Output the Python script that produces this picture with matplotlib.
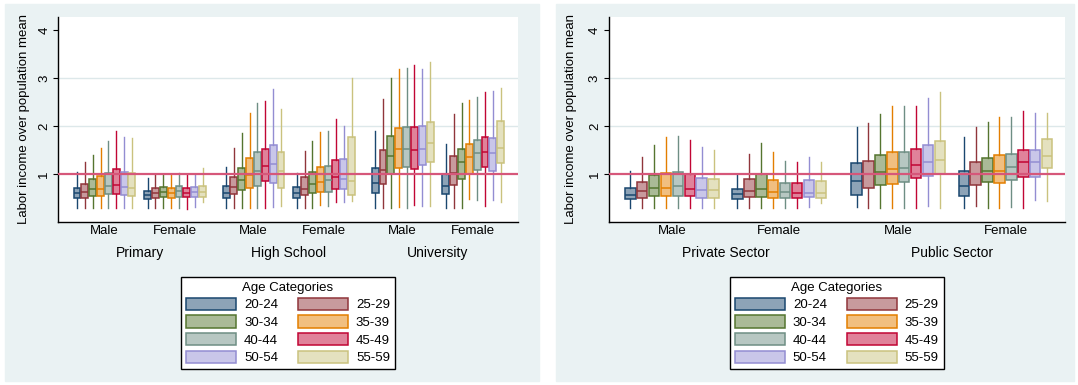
import numpy as np
import matplotlib
matplotlib.use('Agg')
import matplotlib.pyplot as plt
from matplotlib.colors import to_rgb
from matplotlib.patches import Patch, Rectangle

plt.rcParams['font.family'] = ['Liberation Sans', 'DejaVu Sans']

# Age categories and their colours
ages = ['20-24', '25-29', '30-34', '35-39', '40-44', '45-49', '50-54', '55-59']
age_colors = ['#1A476F', '#90353B', '#55752F', '#E37E00',
              '#6E8E84', '#C10534', '#938DD2', '#CAC27E']

genders = ['Male', 'Female']

# Education panel: clusters are Primary M/F, High School M/F, University M/F
edu_groups = ['Primary', 'High School', 'University']
edu_lo = [[.30, .30, .30, .30, .30, .30, .30, .30],
          [.30, .30, .30, .30, .30, .28, .32, .42],
          [.30, .30, .30, .30, .30, .30, .32, .33],
          [.30, .30, .30, .35, .33, .42, .42, .44],
          [.30, .30, .30, .32, .30, .36, .33, .34],
          [.30, .30, .30, .47, .46, .33, .46, .42]]
edu_q1 = [[.49, .50, .54, .55, .58, .58, .56, .54],
          [.48, .50, .52, .50, .53, .52, .53, .53],
          [.50, .58, .67, .70, .76, .86, .82, .70],
          [.49, .56, .60, .63, .63, .68, .68, .56],
          [.61, .79, 1.00, 1.12, 1.15, 1.11, 1.19, 1.24],
          [.58, .77, .90, 1.00, 1.08, 1.14, 1.07, 1.23]]
edu_med = [[.60, .63, .68, .69, .75, .77, .72, .70],
           [.56, .60, .62, .60, .64, .61, .62, .63],
           [.61, .72, .87, .98, 1.07, 1.17, 1.20, 1.07],
           [.61, .69, .79, .83, .87, .94, .89, .86],
           [.82, 1.08, 1.37, 1.52, 1.53, 1.49, 1.53, 1.65],
           [.74, 1.02, 1.24, 1.35, 1.43, 1.46, 1.43, 1.55]]
edu_q3 = [[.71, .80, .89, .95, 1.02, 1.10, 1.05, 1.02],
          [.65, .71, .72, .71, .74, .70, .72, .76],
          [.76, .94, 1.13, 1.33, 1.45, 1.53, 1.61, 1.45],
          [.72, .93, 1.04, 1.15, 1.17, 1.29, 1.32, 1.78],
          [1.13, 1.50, 1.80, 1.95, 1.98, 1.98, 1.99, 2.09],
          [1.01, 1.37, 1.53, 1.63, 1.70, 1.77, 1.75, 2.10]]
edu_hi = [[1.05, 1.24, 1.40, 1.55, 1.69, 1.90, 1.78, 1.74],
          [.92, 1.00, 1.01, 1.00, 1.03, .97, 1.00, 1.12],
          [1.14, 1.55, 1.85, 2.26, 2.47, 2.53, 2.78, 2.35],
          [1.03, 1.48, 1.69, 1.88, 1.90, 2.14, 2.00, 3.00],
          [1.90, 2.56, 3.00, 3.19, 3.20, 3.27, 3.18, 3.33],
          [1.62, 2.24, 2.47, 2.55, 2.60, 2.71, 2.72, 2.80]]

# Sector panel: clusters are Private M/F, Public M/F
sec_groups = ['Private Sector', 'Public Sector']
sec_lo = [[.30, .30, .30, .30, .30, .30, .30, .30],
          [.30, .30, .30, .30, .30, .30, .32, .40],
          [.31, .30, .30, .30, .30, .30, .33, .30],
          [.30, .33, .30, .30, .32, .30, .46, .44]]
sec_q1 = [[.48, .51, .55, .55, .55, .54, .51, .51],
          [.47, .53, .53, .51, .51, .49, .52, .50],
          [.56, .71, .78, .80, .84, .92, .96, 1.00],
          [.54, .78, .84, .81, .87, .94, .94, 1.13]]
sec_med = [[.57, .65, .70, .71, .74, .69, .66, .66],
           [.58, .65, .68, .63, .63, .60, .60, .60],
           [.86, 1.00, 1.05, 1.10, 1.12, 1.19, 1.26, 1.29],
           [.76, 1.00, 1.07, 1.07, 1.14, 1.24, 1.24, 1.38]]
sec_q3 = [[.70, .84, .97, 1.03, 1.05, 1.00, .92, .90],
          [.68, .89, .99, .88, .82, .81, .88, .86],
          [1.22, 1.27, 1.39, 1.45, 1.46, 1.53, 1.61, 1.69],
          [1.06, 1.26, 1.34, 1.39, 1.42, 1.51, 1.49, 1.72]]
sec_hi = [[1.06, 1.35, 1.60, 1.78, 1.80, 1.70, 1.56, 1.50],
          [.98, 1.42, 1.65, 1.45, 1.28, 1.25, 1.36, 1.26],
          [1.97, 2.07, 2.25, 2.42, 2.41, 2.42, 2.59, 2.70],
          [1.78, 1.98, 2.08, 2.19, 2.19, 2.31, 2.27, 2.28]]

BG = '#EAF2F3'
REF = '#D6577A'
GRID = '#DDE8EA'


def light(c, a=0.5):
    r, g, b = to_rgb(c)
    return (1 - a + a * r, 1 - a + a * g, 1 - a + a * b)


def draw_panel(ax, lo, q1, med, q3, hi, groups, xlim, ylab_x):
    # gap of one slot between sexes, two between groups
    offsets = []
    start = 0
    for g in range(len(groups)):
        offsets += [start, start + 9]
        start += 19
    for ci, off in enumerate(offsets):
        for k in range(len(ages)):
            ec = age_colors[k]
            stats = [dict(whislo=lo[ci][k], q1=q1[ci][k], med=med[ci][k],
                          q3=q3[ci][k], whishi=hi[ci][k], fliers=[])]
            ax.bxp(stats, positions=[off + k], widths=0.88, showcaps=False,
                   showfliers=False, patch_artist=True, manage_ticks=False,
                   boxprops=dict(facecolor=light(ec), edgecolor=ec, linewidth=1.1),
                   medianprops=dict(color=ec, linewidth=1.1),
                   whiskerprops=dict(color=ec, linewidth=1.0))

    ax.axhline(1, color=REF, lw=1.6, zorder=5)
    for y in (2, 3):
        ax.axhline(y, color=GRID, lw=1.0, zorder=0)

    ax.set_xlim(*xlim)
    ax.set_ylim(0, 4.27)
    ax.set_yticks([1, 2, 3, 4])
    ax.set_yticklabels(['1', '2', '3', '4'], rotation=90, va='center')
    ax.tick_params(axis='y', length=3.6, width=0.8, pad=2, labelsize=9.5)
    ax.set_ylabel('Labor income over population mean', fontsize=9.5)
    ax.yaxis.set_label_coords(ylab_x, 0.5)

    centers = [o + 3.5 for o in offsets]
    ax.set_xticks(centers)
    ax.set_xticklabels(genders * len(groups))
    ax.tick_params(axis='x', length=0, pad=2.5, labelsize=9.5)
    for g, name in enumerate(groups):
        xc = (centers[2 * g] + centers[2 * g + 1]) / 2
        ax.annotate(name, xy=(xc, 0), xycoords=('data', 'axes fraction'),
                    xytext=(0, -31), textcoords='offset pixels',
                    ha='center', va='center', fontsize=10)

    for s in ('top', 'right'):
        ax.spines[s].set_visible(False)
    for s in ('left', 'bottom'):
        ax.spines[s].set_linewidth(1.0)
        ax.spines[s].set_color('black')
    ax.set_facecolor('white')


W, H = 1078, 385
fig = plt.figure(figsize=(W / 100, H / 100), dpi=100)
fig.patch.set_facecolor('white')

# panel backgrounds
fig.patches.append(Rectangle((5 / W, 4 / H), 534 / W, 377 / H,
                             transform=fig.transFigure, color=BG, zorder=-10))
fig.patches.append(Rectangle((556 / W, 4 / H), 518 / W, 377 / H,
                             transform=fig.transFigure, color=BG, zorder=-10))

ax1 = fig.add_axes([58 / W, (H - 222) / H, 460 / W, 205 / H])
ax2 = fig.add_axes([608.6 / W, (H - 222) / H, 456.4 / W, 205 / H])

draw_panel(ax1, edu_lo, edu_q1, edu_med, edu_q3, edu_hi, edu_groups,
           (-2.42, 56.2), -0.061)
draw_panel(ax2, sec_lo, sec_q1, sec_med, sec_q3, sec_hi, sec_groups,
           (-1.82, 36.5), -0.069)

# legend fills column by column, so order entries to read across rows
order = list(range(0, len(ages), 2)) + list(range(1, len(ages), 2))
handles = [Patch(facecolor=light(age_colors[i]), edgecolor=age_colors[i],
                 linewidth=1.1) for i in order]
labels = [ages[i] for i in order]
for ax in (ax1, ax2):
    pos = ax.get_position()
    leg = fig.legend(handles, labels, ncol=2, title='Age Categories',
                     loc='upper center',
                     bbox_to_anchor=(pos.x0 + pos.width / 2, (H - 270) / H),
                     fontsize=9.5, title_fontsize=9.5, frameon=True,
                     fancybox=False, edgecolor='black', framealpha=1,
                     handlelength=3.8, handleheight=1.05, handletextpad=0.6,
                     columnspacing=1.5, labelspacing=0.3, borderpad=0.4)
    leg.get_frame().set_linewidth(1.0)

fig.savefig('out.png', dpi=100)
